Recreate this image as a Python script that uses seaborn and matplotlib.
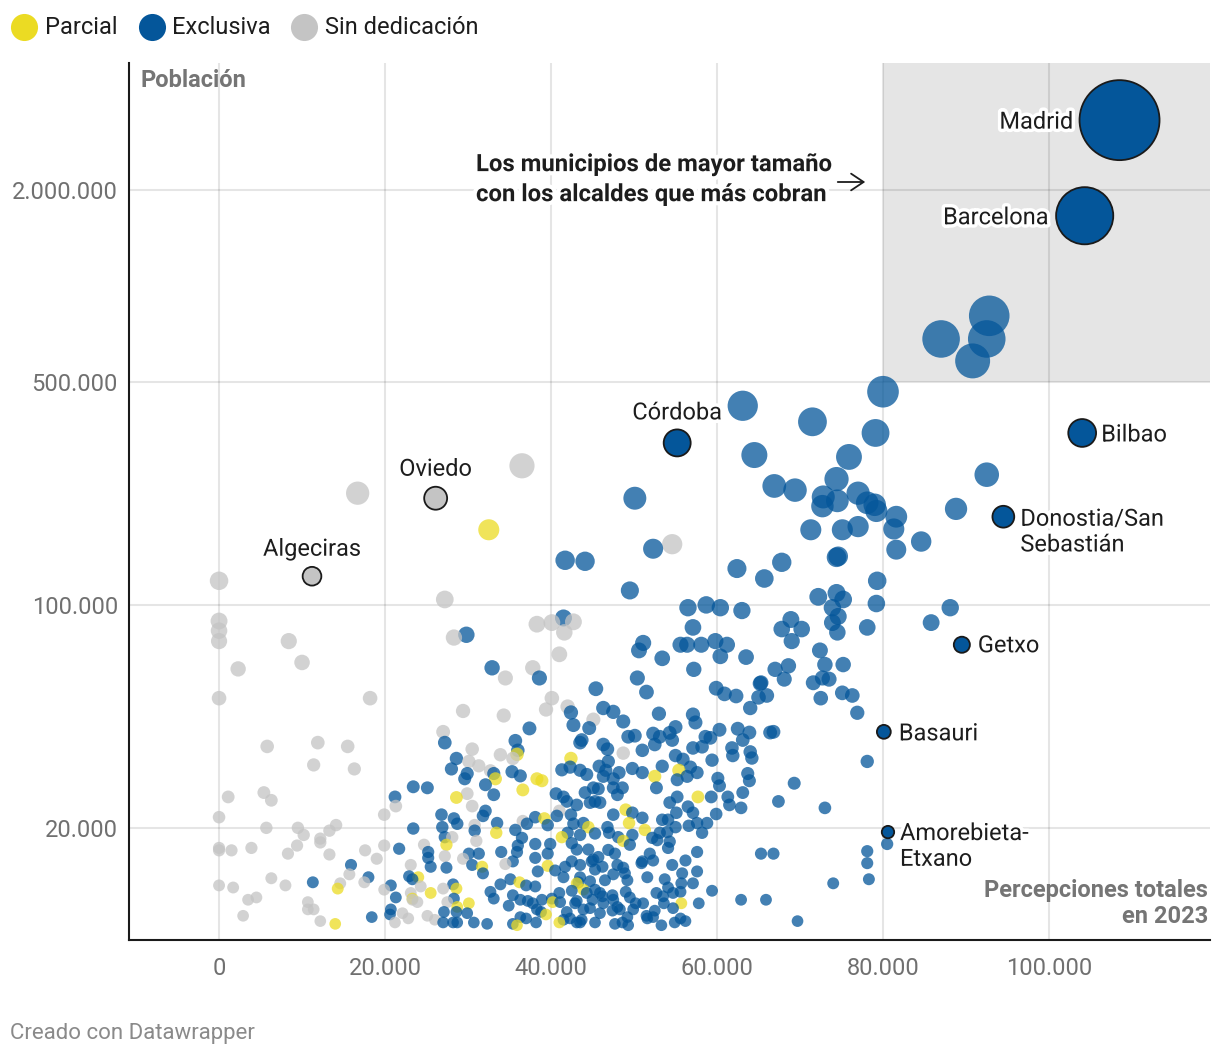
import numpy as np
import pandas as pd
import matplotlib
matplotlib.use("Agg")
import matplotlib.pyplot as plt
import matplotlib.patheffects as pe
from matplotlib.lines import Line2D
from matplotlib.patches import Rectangle
from matplotlib.ticker import FixedLocator, NullLocator, FuncFormatter
import seaborn as sns

sns.set_theme(style="white")
plt.rcParams['font.family'] = ['Roboto', 'DejaVu Sans']

# ---------------- DATA (salary in thousand €, population in thousands) -------------
sin_sal = [0, 0, 0, 0, 8.4, 10, 2.3, 0, 18.2, 5.8, 11.9, 15.5, 11.4, 16.3, 1.1, 5.4, 6.3, 0, 19.9, 5.7,
           9.5, 14.1, 10.2, 13.3, 12.2, 12.2, 0, 0, 1.5, 3.9, 8.3, 9.4, 13.3, 17.6, 19.9, 19, 15.7, 17.5,
           14.6, 19.9, 0, 1.7, 6.3, 8, 3.5, 4.5, 2.9, 10.7, 11.4, 10.7, 12.2,
           34.5, 40.1, 39.4, 42, 29.4, 34.3, 27, 30.5, 33.9, 35.4, 30.1, 31.3, 32.7, 29.9, 30.5, 21.3,
           30.8, 31, 28.1, 24.7, 27.2, 23.1, 29.4, 34.5, 36.6, 41, 24.3, 23.1, 23.3, 23.9, 27, 27.5,
           25.1, 26, 22.1, 22.8, 21.2,
           45.1, 48.7, 36.5, 27.2, 54.6, 38.3, 40.1, 42.7, 41.6, 41, 28.3, 37.8, 16.7]
sin_pob = [119, 89, 83, 77, 77, 66, 63, 51, 51, 36, 37, 36, 31.5, 30.6, 25, 25.8, 24.4, 21.6, 22, 20,
           20, 20.4, 19, 19.6, 18.5, 18, 17.3, 17, 17, 17.3, 16.6, 17.6, 16.5, 17, 17.6, 16, 14.3, 13.5,
           13.4, 12.8, 13.2, 13, 13.9, 13.2, 11.9, 12.1, 10.6, 11.7, 11.1, 11.1, 10.2,
           59, 51, 47, 48, 46.5, 45, 40, 35.3, 33.9, 33, 32.3, 31.3, 30.2, 25.6, 23.4, 23.4,
           20.4, 18.2, 18.7, 17.7, 16.3, 15.3, 16, 15.4, 21, 22.6, 13.1, 12.5, 11.9, 11.7, 12.9, 11.7,
           10.6, 10.3, 10.8, 10.4, 10.1,
           43.7, 34.3, 273, 104, 155, 87, 88, 88.5, 82, 70, 79, 63.5, 224]

parcial_sal = [32.5, 14.3, 14, 35.9, 33.3, 38.3, 38.9, 36.6, 28.6, 33.4, 27.4, 31.7, 39.2, 42.4, 41.3,
               39.6, 24, 23.3, 25.5, 28.6, 28.7, 30.1, 36.2, 40.2, 39.4, 35.9, 41,
               55.4, 52.5, 44.5, 49, 49.4, 51.3, 48.7, 57.7, 55.7, 43.9, 43.1]
parcial_pob = [172, 12.9, 10, 34, 28.5, 28.5, 28.1, 26.3, 24.9, 19.3, 17.7, 15.1, 21.4, 33, 18.7,
               15.2, 14, 12, 12.5, 12.9, 11.3, 11.6, 13.5, 11.7, 10.7, 9.9, 10.1,
               30.3, 29, 20.1, 22.8, 20.7, 19.7, 18.2, 25, 11.6, 12.8, 13.4]

excl_sal = [
    15.9, 18, 11.3, 18.4,
    38.6, 42.4, 42.7, 37.4, 27.2, 35.7, 36, 28.6, 28, 29.9, 29.6, 33.1, 35.3, 36.3, 32.1, 33.1, 23.4,
    25.1, 21.2, 26.8, 28.3, 28.7, 32.1, 31.8, 30.8, 33.5, 26.9, 23.4, 27.2, 21.7, 25.2, 25.2, 25.5,
    27.4, 30.1, 31.3, 30.5, 31.8, 34, 35.4, 36, 35.9, 36.5, 35.7, 37.1, 38.1, 39.6, 40.7, 40.6, 41.5,
    41.9, 43.1, 42.4, 41.3, 42.3, 43.5, 42.7, 42, 38.1, 39.9, 39.6, 38.1, 42.5, 42.5, 41.7, 38.4, 40.5,
    41.5, 22.9, 23.3, 20.7, 21.3, 28.2, 28.3, 28.6, 29.9, 27.1, 27, 28.2, 28.7, 30.7, 32.3, 20.7, 20.6,
    32.7, 33.1, 33.9, 35.1, 37, 38.1, 35.4, 34.9, 36.3, 37.2, 37.8, 38.9, 40.1, 41, 42.5, 43.3, 41.1,
    38.3, 38.8, 36.3, 37, 35.4, 38.2, 41.5, 42.3, 43.1,
    45.4, 51.5, 59.9, 60.9, 62.3, 65.2, 65, 66, 64, 46.3, 47.5, 44.6, 48.7, 50.1, 49.3, 53, 52.3, 53.1,
    52.5, 54.3, 55, 54.6, 57.1, 57.4, 58.6, 59.2, 60.3, 58.2, 57.1, 62.5, 63.9, 63.1, 61.8, 61.9, 64,
    64.2, 66.4, 59.4, 55.9, 55, 56.8, 57.6, 56.4, 55.2, 53.4, 52.7, 51, 49.8, 51, 46.8, 46.3, 46.9, 45.8,
    46.6, 48.2, 47.5, 46.3, 44.3, 43.5, 43.7, 44.1, 45.1, 45.7, 47.5, 48, 48.6, 45.3, 45.9, 44.7, 43.9,
    45.3, 43.5, 47.5, 49.8, 51, 46.8, 47, 48.1, 49.8, 49.5, 52.2, 52.8, 53.1, 54.3, 54.1, 51.9, 52.3,
    50.9, 54, 55, 54.1, 53.4, 55.1, 54.3, 55.2, 56.5, 57.1, 56.6, 57.6, 58.8, 58.2, 59.3, 60.1, 60.3,
    59.9, 61.3, 61.5, 63.1, 62.9, 63.7, 63.9, 57.6, 56.2, 55.8, 54.6, 57.6, 57.1, 55.7, 54.1, 53.7, 52.7,
    53.5, 53.6, 54.7, 57.8, 59.4, 55.6, 56.2, 53.3, 52.3, 51.5, 50.2, 49.5, 49, 49.9, 49.2, 49.3, 48.6,
    47.7, 47.4, 45.9, 45.3, 44.7, 43.9, 42.9, 43.7, 46.3, 47.5, 48, 45.9, 44.3, 44.7, 46.5, 45.3, 46.2,
    44.9, 43.5, 43.1, 44.5, 45.7, 48, 48.7, 48.9, 49.2, 47.5, 51, 51.6, 54.7, 62.9, 65.9, 65.3,
    46.9, 47.7, 45.1, 43.5, 45.3, 47.4, 55.6, 43.1, 45, 46.2, 48.3, 51.1, 41.9, 52.5, 54.9, 43.5, 51.6,
    76.9, 66.8, 78.1, 69.3, 67.4, 73, 80.5, 78.1, 78.1, 78.3, 74, 66.8, 69.7,
    50.1, 52.3, 41.7, 44.1, 49.5, 41.5, 29.8, 32.9, 51.1, 50.6, 53.4, 50.4, 55.6,
    63.1, 71.5, 80, 79.1, 64.5, 75.9, 66.9, 69.4, 74.4, 72.8, 72.7, 74.5, 77, 78.1, 79, 79.2, 81.6,
    81.3, 81.6, 88.8, 84.6, 71.3, 75.1, 77, 74.4, 74.6, 67.8, 62.4, 65.7, 79.3, 72.2, 74.4, 75.2, 73.9,
    74.6, 73.9, 74.5, 79.2, 78.1, 88.1, 85.8, 56.5, 58.7, 60.4, 63, 57.1, 56.4, 58.1, 59.8, 61.2, 60.4,
    63.5, 57.2, 67.8, 68.9, 70.2, 69, 72.4, 73, 75.2, 67, 68.6, 68.1, 65.3, 71.6, 72.7, 73.5, 75.1,
    76.3, 72.5,
    92.8, 87, 92.5, 90.8, 92.5]
excl_pob = [
    15.3, 14, 13.5, 10.5,
    59, 46, 42, 41, 37, 37.5, 35, 33, 30.6, 29.6, 28.5, 29.6, 30, 29.1, 27.3, 25.4, 26.9,
    26.7, 25, 22, 21.4, 20.6, 22.6, 21.8, 19.6, 20.7, 20.1, 19.9, 18.7, 17.2, 16.8, 16.1, 15.1,
    15, 16.6, 16.6, 15.3, 14.4, 16.8, 15.7, 17.6, 16.8, 18.6, 19.7, 20.6, 21.6, 20.4, 21.8, 25.6, 25,
    24.2, 23.6, 22, 30.4, 31, 37, 20.6, 19.3, 17.8, 17.8, 16.6, 16.1, 17.9, 15.7, 15.1, 14.6, 14.7,
    14, 14.1, 13.8, 13.2, 12.1, 13.3, 12, 10.9, 10.8, 10.9, 10.1, 10.1, 10.1, 10.1, 10, 11.1, 10.7,
    12.6, 12, 13.3, 13.8, 13.2, 13.1, 12.3, 11.4, 11.9, 11.8, 11.6, 11.9, 12, 12.5, 12.7, 13.5, 11.7,
    11.1, 10.9, 10.5, 10.4, 10, 10.1, 10.3, 10.4, 10.1,
    54.6, 53.3, 54.8, 52.6, 51.8, 56.7, 51.3, 52, 47.5, 47.5, 46.2, 41.1, 43.1, 38.9, 38.6, 45.6, 39.5, 38.6,
    36.5, 39.7, 41.4, 37.7, 45.3, 42.8, 38.6, 38.3, 40.6, 35.9, 35.6, 40.9, 39.8, 37.7, 35.6, 33.7, 34.6,
    33.1, 39.8, 32.6, 32.8, 33.7, 31, 29.8, 29, 28.3, 31.2, 26.7, 29.8, 30.7, 35, 35.3, 36.5, 32.3, 31.2,
    30.3, 29.8, 28.5, 29, 29.4, 30.3, 37.7, 25.8, 26.7, 26.5, 26.7, 25.4, 26.7, 24.2, 24, 24, 20.7,
    19.2, 19, 22, 22.3, 21.5, 20.1, 19.3, 18.7, 19, 17.7, 18.6, 18.3, 19.3, 18.1, 17.3, 16.6, 15.8,
    15.5, 19.4, 20.1, 21.2, 21.2, 22.3, 24, 25, 23.3, 22.3, 20.3, 20.7, 20.7, 19.3, 25, 28.6, 27.1,
    22.1, 25, 23.6, 25.8, 23.1, 29.6, 28.1, 16.8, 15.8, 14.4, 15.3, 14.6, 13.4, 13.4, 13, 13.8, 12.5,
    12.2, 11.6, 11.2, 11.6, 12.7, 10.4, 10.2, 9.9, 10.5, 10.6, 11.6, 12.1, 12.6, 11.1, 10.5, 9.9, 10.1,
    10, 11, 10.8, 10.1, 11.2, 11.1, 11.6, 10.3, 11.6, 11.9, 11.3, 12.5, 12.5, 13.6, 13.7, 14.8, 15.1,
    15.7, 15.3, 17.1, 17.1, 16.2, 15.3, 15, 14.4, 13.7, 14.3, 15.7, 14, 12.5, 11.9, 11.9, 16.6,
    17.05, 16.6, 15.9, 14, 12.8, 12.3, 12.6, 11.8, 11.9, 12.2, 11.1, 11.6, 10.9, 11, 10.1, 10.1, 10.4,
    45.9, 40, 32.3, 27.6, 24.2, 23.1, 17.8, 16.9, 15.5, 13.8, 13.4, 16.6, 10.2,
    216, 150, 138, 137, 111, 91, 80.6, 63.5, 76, 72, 68, 59, 75,
    421, 375, 466, 346, 295, 291, 236, 229, 248, 218, 204, 212, 224, 209, 206, 197, 189,
    173, 149, 200, 158, 172, 172, 176, 141, 142, 136, 130, 121, 119, 106, 109, 104, 98,
    92, 88, 82, 101, 85, 98, 88, 98, 100, 98, 96, 85, 75, 75, 77, 75, 69,
    68.6, 62.8, 84, 90, 84, 77, 72, 65, 65, 62.8, 64.4, 58.5, 57, 57, 59, 58.5, 53,
    52, 51,
    806, 682, 682, 582, 256]

# labelled municipalities
lab_names = ["Madrid", "Barcelona", "Bilbao", "Donostia/San\nSebastián", "Getxo", "Basauri",
             "Amorebieta-\nEtxano", "Córdoba", "Oviedo", "Algeciras"]
lab_sal = [108.5, 104.3, 104.0, 94.5, 89.5, 80.1, 80.6, 55.2, 26.1, 11.2]
lab_pob = [3310, 1660, 346, 189, 75, 40, 19.4, 322, 216, 123]
lab_cat = ["Exclusiva"] * 8 + ["Sin dedicación"] * 2

categories = ["Parcial", "Exclusiva", "Sin dedicación"]
colors = {"Parcial": "#ebdb23", "Exclusiva": "#04569a", "Sin dedicación": "#c4c4c4"}

y_ticks = [20000, 100000, 500000, 2000000]
x_ticks = [0, 20000, 40000, 60000, 80000, 100000]

# ---------------- FRAME -------------
def frame(sal, pob, cat):
    return pd.DataFrame({"salario": np.array(sal) * 1000, "poblacion": np.array(pob) * 1000,
                         "dedicacion": cat})

df = pd.concat([frame(sin_sal, sin_pob, "Sin dedicación"),
                frame(parcial_sal, parcial_pob, "Parcial"),
                frame(excl_sal, excl_pob, "Exclusiva")], ignore_index=True)
lab = frame(lab_sal, lab_pob, lab_cat)
lab["nombre"] = lab_names

DPI = 100
W, H = 1220, 1058
PMAX = 3.31e6
R0, RMAX = 5.4, 40.0                     # marker radius (px) at population 0 and at PMAX
A0 = (2 * R0 * 72.0 / DPI) ** 2
AMAX = (2 * RMAX * 72.0 / DPI) ** 2

df = df.sort_values("poblacion", ascending=False).reset_index(drop=True)

fig = plt.figure(figsize=(W / DPI, H / DPI), dpi=DPI)
ax = fig.add_axes([129 / W, 1 - 940 / H, (1210 - 129) / W, (940 - 63) / H])
ax.set_yscale("log")

sns.scatterplot(data=df, x="salario", y="poblacion", hue="dedicacion", palette=colors,
                size="poblacion", sizes=(A0, AMAX), size_norm=(0, PMAX),
                alpha=0.75, edgecolor="none", linewidth=0, legend=False, ax=ax, zorder=2)
sns.scatterplot(data=lab, x="salario", y="poblacion", hue="dedicacion", palette=colors,
                size="poblacion", sizes=(A0, AMAX), size_norm=(0, PMAX),
                alpha=1, edgecolor="#1a1a1a", linewidth=1.3, legend=False, ax=ax, zorder=3)

ax.set_xlim(-10850, 119400)
ax.set_ylim(8900, 5.0e6)

ax.add_patch(Rectangle((80000, 500000), 1e6, 1e9, facecolor="#e5e5e5", edgecolor="none", zorder=0.2))
ax.set_axisbelow(True)
ax.grid(True, color="black", alpha=0.1, linewidth=1.5)

ax.xaxis.set_major_locator(FixedLocator(x_ticks))
ax.yaxis.set_major_locator(FixedLocator(y_ticks))
ax.yaxis.set_minor_locator(NullLocator())
fmt = FuncFormatter(lambda v, p: f"{int(round(v)):,}".replace(",", "."))
ax.xaxis.set_major_formatter(fmt)
ax.yaxis.set_major_formatter(fmt)
ax.tick_params(axis="both", length=0, labelsize=17, labelcolor="#707070")
ax.tick_params(axis="y", pad=8)
ax.tick_params(axis="x", pad=12)
ax.set_xlabel("")
ax.set_ylabel("")
for s in ["top", "right"]:
    ax.spines[s].set_visible(False)
for s in ["left", "bottom"]:
    ax.spines[s].set_color("#1a1a1a")
    ax.spines[s].set_linewidth(1.5)

# labels for municipalities
halo = [pe.withStroke(linewidth=5, foreground="white")]
offsets = {
    "Madrid": (-46, -2, "right", "center"),
    "Barcelona": (-36, -2, "right", "center"),
    "Bilbao": (19, -2, "left", "center"),
    "Donostia/San\nSebastián": (17, 9, "left", "top"),
    "Getxo": (16, -1, "left", "center"),
    "Basauri": (15, -2, "left", "center"),
    "Amorebieta-\nEtxano": (12, 10, "left", "top"),
    "Córdoba": (0, 30, "center", "center"),
    "Oviedo": (0, 29, "center", "center"),
    "Algeciras": (0, 27, "center", "center"),
}
for _, row in lab.iterrows():
    dx, dy, ha, va = offsets[row["nombre"]]
    ax.annotate(row["nombre"], xy=(row["salario"], row["poblacion"]), xytext=(dx, dy),
                textcoords="offset pixels", ha=ha, va=va, fontsize=17, color="#1d1d1d",
                linespacing=1.15, path_effects=halo, zorder=5)

# axis titles & annotation
fig.text(141 / W, 1 - 80 / H, "Población", fontsize=17, fontweight="bold", color="#757575",
         ha="left", va="center")
fig.text(1208 / W, 1 - 928 / H, "Percepciones totales\nen 2023", fontsize=17, fontweight="bold",
         color="#757575", ha="right", va="bottom", multialignment="right", linespacing=1.15)
fig.text(476 / W, 1 - 153 / H, "Los municipios de mayor tamaño\ncon los alcaldes que más cobran",
         fontsize=17.2, fontweight="bold", color="#1d1d1d", ha="left", va="top", linespacing=1.39,
         path_effects=[pe.withStroke(linewidth=6, foreground="white")], zorder=6)
fig.add_artist(matplotlib.patches.FancyArrowPatch(
    (835 / W, 1 - 182 / H), (868 / W, 1 - 182 / H), transform=fig.transFigure,
    arrowstyle="->,head_length=0.45,head_width=0.3", mutation_scale=20, lw=1.3, color="#1d1d1d",
    zorder=6))
fig.text(10 / W, 1 - 1034 / H, "Creado con Datawrapper", fontsize=16, color="#8a8a8a",
         ha="left", va="center")

# legend
leg_pos = [(24, 45), (152, 172), (304, 325)]
for cat, (cx, tx) in zip(categories, leg_pos):
    fig.add_artist(Line2D([cx / W], [1 - 27 / H], transform=fig.transFigure, marker="o",
                          markersize=19.5, markerfacecolor=colors[cat], markeredgecolor="none",
                          linestyle=""))
    fig.text(tx / W, 1 - 27 / H, cat, fontsize=17, color="#1d1d1d", ha="left", va="center")

fig.savefig("out.png", dpi=DPI)
